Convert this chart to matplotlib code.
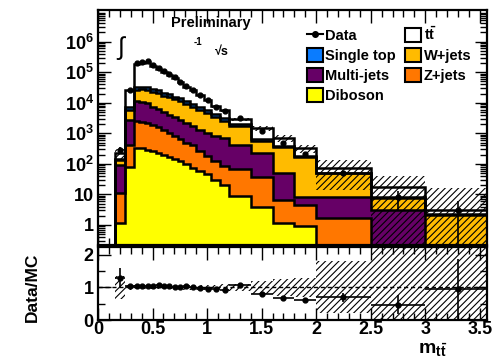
import numpy as np
import matplotlib
matplotlib.use('Agg')
import matplotlib.pyplot as plt
from matplotlib.patches import Patch
from matplotlib.lines import Line2D
from matplotlib.ticker import FixedLocator, MultipleLocator, NullFormatter

plt.rcParams['font.family'] = ['Liberation Sans', 'DejaVu Sans']
plt.rcParams['font.weight'] = 'bold'
plt.rcParams['mathtext.fontset'] = 'custom'
plt.rcParams['mathtext.rm'] = 'Liberation Sans:bold'
plt.rcParams['mathtext.bf'] = 'Liberation Sans:bold'
plt.rcParams['mathtext.it'] = 'Liberation Sans:bold'
plt.rcParams['hatch.linewidth'] = 0.8

# bin edges of m_tt (TeV)
edges = np.array([0.16, 0.25, 0.33, 0.38, 0.43, 0.48, 0.53, 0.58, 0.63, 0.68, 0.73, 0.78,
                  0.84, 0.90, 0.97, 1.04, 1.12, 1.20, 1.40, 1.60, 1.80, 2.00, 2.50, 3.00, 3.60])

data = np.array([290, 27000, 200000, 210000, 230000, 170000, 140000, 107000, 85000, 68000,
                 48000, 35000, 26000, 18000, 12000, 7200, 5200, 3100, 1180, 470, 205, 50, 8, 3])
data_err = np.array([65, 400, 900, 900, 950, 800, 700, 600, 500, 450, 350, 300, 250, 200,
                     180, 140, 120, 100, 45, 28, 17, 10, 5, 3])

diboson = np.array([1.2, 80, 330, 320, 290, 270, 230, 200, 165, 140, 120, 100, 75, 60, 45,
                    30, 20, 9, 4, 1.2, 0.9, 0.12, 0.05, 0.02])
zjets = np.array([9.8, 340, 2170, 2080, 1910, 1580, 1320, 1050, 835, 680, 540, 400, 325, 210,
                  135, 90, 65, 61, 34, 5.4, 3.6, 1.58, 0.10, 0.04])
multijet = np.array([82, 2380, 9200, 8100, 7800, 5550, 4650, 3750, 3000, 2650, 2090, 1640,
                     1300, 1020, 820, 680, 605, 350, 186, 43, 4.0, 6.8, 2.95, 0.14])
wjets = np.array([42, 3100, 15300, 17000, 16500, 15600, 15000, 12200, 11500, 9330, 8750, 6660,
                  5800, 4410, 3550, 2700, 1910, 1330, 336, 295, 158, 41.5, 4.6, 1.9])
singletop = np.array([10, 1200, 6500, 6500, 6000, 5500, 5000, 4200, 3800, 3200, 2800, 2200,
                      1900, 1450, 1150, 880, 650, 250, 80, 40, 15, 2, 0.3, 0.1])
ttbar = np.array([78, 18600, 158500, 166000, 186500, 135000, 105800, 80600, 63200, 50700,
                  33700, 23000, 16100, 11410, 6800, 3200, 2400, 900, 835, 315, 148, 20, 9, 1.0])

# relative systematic uncertainty on the prediction
syst = np.array([0.35, 0.07, 0.06, 0.06, 0.06, 0.06, 0.06, 0.06, 0.06, 0.06, 0.07, 0.07,
                 0.07, 0.08, 0.08, 0.08, 0.10, 0.12, 0.20, 0.25, 0.30, 0.80, 1.30, 4.0])

layers = [(diboson, '#ffff00', 'Diboson'),
          (zjets, '#ff7700', 'Z+jets'),
          (multijet, '#660066', 'Multi-jets'),
          (wjets, '#ffbb00', 'W+jets'),
          (singletop, '#0a7cff', 'Single top'),
          (ttbar, 'white', r'$\mathbf{t\bar{t}}$')]

centers = 0.5 * (edges[1:] + edges[:-1])
halfw = 0.5 * (edges[1:] - edges[:-1])
floor = 1e-3

fig = plt.figure(figsize=(4.96, 3.59), dpi=100)
ax = fig.add_axes([0.1976, 0.3175, 0.784, 0.655])
rax = fig.add_axes([0.1976, 0.1086, 0.784, 0.2034])

# stacked histograms
base = np.full(len(data), floor)
tops = []
for vals, col, lab in layers:
    top = base + vals
    ax.stairs(top, edges, baseline=base, fill=True, color=col, lw=0, zorder=2)
    tops.append(top)
    base = top
for top in tops:
    ax.stairs(top, edges, baseline=floor, color='k', lw=1.8, zorder=3)
total = base - floor

# uncertainty band
lo = np.clip(total * (1 - syst), floor, None)
hi = total * (1 + syst)
ax.fill_between(edges, np.append(lo, lo[-1]), np.append(hi, hi[-1]), step='post',
                facecolor='none', edgecolor='k', hatch='/////', lw=0, zorder=4)

ax.errorbar(centers, data, yerr=data_err, fmt='o', color='k', ms=3.5, lw=1.2,
            capsize=0, zorder=5)

ax.set_yscale('log')
ax.set_xlim(0, 3.565)
ax.set_ylim(0.22, 1.1e7)
ax.yaxis.set_major_locator(FixedLocator([1, 10, 1e2, 1e3, 1e4, 1e5, 1e6]))
ax.set_yticklabels(['1', '10', r'$\mathbf{10^{2}}$', r'$\mathbf{10^{3}}$', r'$\mathbf{10^{4}}$',
                    r'$\mathbf{10^{5}}$', r'$\mathbf{10^{6}}$'])
ax.yaxis.set_minor_locator(FixedLocator([m * 10.0 ** e for e in range(-1, 7) for m in range(2, 10)]))
ax.yaxis.set_minor_formatter(NullFormatter())
ax.xaxis.set_major_locator(MultipleLocator(0.5))
ax.xaxis.set_minor_locator(MultipleLocator(0.1))
ax.tick_params(axis='x', labelbottom=False)

# ratio panel
ratio = data / total
ratio_err = data_err / total
rax.fill_between(edges, np.append(1 - syst, 1 - syst[-1]), np.append(1 + syst, 1 + syst[-1]),
                 step='post', facecolor='none', edgecolor='k', hatch='/////', lw=0, zorder=1)
rax.axhline(1, color='k', ls='--', lw=1, dashes=(3, 2), zorder=2)
rax.errorbar(centers, ratio, xerr=halfw, yerr=ratio_err, fmt='o', color='k', ms=3.5,
             lw=1.2, capsize=0, zorder=3)
rax.set_xlim(0, 3.565)
rax.set_ylim(0, 2.24)
rax.yaxis.set_major_locator(FixedLocator([0, 1, 2]))
rax.yaxis.set_minor_locator(MultipleLocator(0.5))
rax.xaxis.set_major_locator(MultipleLocator(0.5))
rax.xaxis.set_minor_locator(MultipleLocator(0.1))
rax.xaxis.set_major_formatter(matplotlib.ticker.FuncFormatter(lambda v, p: f'{v:g}'))

for a in (ax, rax):
    for s in a.spines.values():
        s.set_linewidth(1.6)
    a.tick_params(which='both', direction='in', top=True, right=True, width=1.0,
                  labelsize=13, pad=3)
    a.tick_params(which='major', length=9)
    a.tick_params(which='minor', length=5)
rax.tick_params(axis='x', pad=1)

fig.text(0.066, 0.20, 'Data/MC', rotation=90, ha='center', va='center', fontsize=12.5)
fig.text(0.843, 0.016, r'$\mathbf{m}_{\mathbf{t\bar{t}}}$', ha='left', va='baseline',
         fontsize=14)

ax.text(0.29, 0.945, 'Preliminary', transform=ax.transAxes, ha='center', va='center',
        fontsize=10.5)
ax.text(0.059, 0.838, '\u222b', transform=ax.transAxes, ha='center', va='center',
        fontsize=18, fontweight='normal')
ax.text(0.257, 0.862, '-1', transform=ax.transAxes, ha='center', va='center', fontsize=7)
ax.text(0.319, 0.822, '\u221as', transform=ax.transAxes, ha='center', va='center', fontsize=9)

handles = [Line2D([], [], color='k', marker='o', ms=4, lw=1.5)]
labels = ['Data']
order = [4, 2, 0, 5, 3, 1]
for i in order:
    vals, col, lab = layers[i]
    handles.append(Patch(facecolor=col, edgecolor='k', lw=1.5))
    labels.append(lab)
ax.legend(handles, labels, ncol=2, loc='upper left', bbox_to_anchor=(0.51, 0.975),
          frameon=False, fontsize=10.5, handlelength=1.1, handleheight=1.1,
          handletextpad=0.2, columnspacing=0.6, labelspacing=0.35, borderpad=0.2)

fig.savefig('out.png', dpi=100)
